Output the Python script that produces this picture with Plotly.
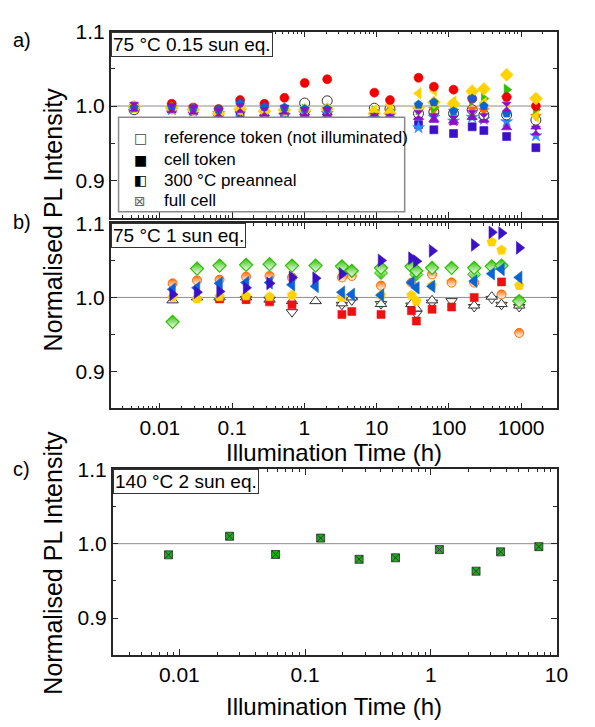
import plotly.graph_objects as go

# ---------------- data ----------------
# panel a) 75 °C 0.15 sun eq.
time_a = [0.0044, 0.0146, 0.029, 0.065, 0.129, 0.28, 0.53, 1.01, 2.07,
          9.3, 15.3, 38, 62, 116, 210, 305, 630, 1600]
a_red_circle = [1.000, 1.003, 0.998, 0.996, 1.008, 1.003, 1.011, 1.031, 1.036,
                1.018, 1.008, 1.038, 1.026, 1.022, 1.010, None, 1.012, 1.000]
a_ref_circle = [0.995, None, None, None, None, None, None, 1.004, 1.007,
                0.997, 0.996, 0.990, 0.992, 0.990, 0.995, 0.988, 0.988, 0.981]
a_blue_pentagon = [0.998, 0.999, 0.997, 0.995, 1.004, 0.999, 0.998, 0.996, 0.996,
                   0.985, 0.984, 1.002, 1.005, 0.993, 1.010, 1.000, 0.990, None]
a_blue_star = [0.996, 0.995, 0.993, 0.990, 0.993, 0.981, 0.987, 0.990, 0.990,
               0.983, 0.982, 0.971, 0.985, 0.980, 0.985, 0.982, 0.979, 0.960]
a_yellow_diamond = [0.999, 0.997, 0.995, 0.990, 0.996, 0.993, 0.995, 0.995, 0.996,
                    0.990, 0.990, 0.998, 1.005, 1.003, 1.020, 1.023, 1.042, 1.010]
a_yellow_triangle = [0.998, 0.996, 0.994, 0.989, 0.995, 0.992, 0.994, 0.994, 0.995,
                     0.995, 1.002, 1.017, 1.021, 1.006, 1.012, 1.004, 1.005, 0.986]
a_green_triangle = [0.998, 0.997, 0.994, 0.991, 0.996, 0.993, 0.994, 0.995, 0.995,
                    0.993, 0.994, 0.996, 0.998, 0.995, 1.008, 1.010, 1.022, 0.995]
a_orange_triangle = [0.997, 0.996, 0.993, 0.984, 0.994, 0.991, 0.993, 0.993, 0.994,
                     0.992, 0.993, 0.994, 0.995, 0.993, 0.996, 0.994, 1.010, 0.986]
a_purple_hourglass = [0.999, 0.997, 0.995, 0.991, 0.997, 0.992, 0.995, 0.992, 0.992,
                      0.984, 0.983, 0.988, 0.984, 0.981, 0.988, 0.984, 0.999, 0.967]
a_purple_triangle = [0.998, 0.996, 0.994, 0.990, 0.995, 0.990, 0.993, 0.991, 0.991,
                     0.983, 0.982, 0.985, 0.982, 0.980, 0.985, 0.982, 0.971, 0.972]
a_indigo_square = [0.998, 0.996, 0.994, 0.990, 0.990, 0.988, 0.990, 0.988, 0.988,
                   0.982, 0.982, 0.975, 0.968, 0.963, 0.972, 0.967, 0.959, 0.944]

# panel b) 75 °C 1 sun eq.
time_b = [0.015, 0.0327, 0.067, 0.156, 0.33, 0.674, 1.43, 3.31, 4.53,
          11.5, 30.3, 35.5, 58.5, 109, 224, 392, 535, 940]
b_green_diamond = [0.967, 1.039, 1.043, 1.044, 1.045, 1.043, 1.043, 1.042, 1.036,
                   1.040, 1.042, 1.036, 1.040, 1.040, 1.040, 1.042, 1.043, 0.995]
b_green_diamond2 = [None, None, None, None, None, None, None, None, None,
                    1.033, None, 1.031, None, None, 1.031, None, None, None]
b_orange_circle = [1.019, 1.023, 1.024, 1.028, 1.029, 1.027, None, 1.027, 1.029,
                   1.016, 1.020, None, 1.031, 1.020, 1.020, None, 1.004, 0.952]
b_blue_left = [1.011, 1.013, 1.019, 1.020, 1.020, 1.017, 1.015, 1.007, 1.004,
               1.003, 1.020, 1.013, 1.015, None, 1.022, 1.032, 1.038, 1.027]
b_indigo_right = [1.004, 1.007, 1.008, 1.013, 1.019, 1.027, 1.026, 1.032, None,
                  1.050, 1.053, 1.049, 1.063, None, 1.071, 1.088, 1.087, 1.067]
b_yellow_pentagon = [1.000, 0.998, 1.001, 1.002, 1.001, 1.003, None, 1.000, None,
                     1.003, 1.003, 0.995, 1.016, 1.021, 1.035, 1.075, 1.064, 1.016]
b_red_square = [None, None, 0.998, 0.997, 0.994, 0.990, None, 0.977, 0.981,
                0.977, 0.982, 0.968, 0.984, 0.987, 1.000, None, 1.021, 0.995]
b_ref_up = [0.996, 1.000, 1.000, 1.000, 0.997, 0.995, 0.995, 0.992, 1.000,
            0.991, 0.991, 0.985, 0.996, None, 0.989, 1.001, 0.991, 0.989]
b_ref_down = [None, None, None, 0.998, 0.997, 0.980, None, 0.990, 0.996,
              0.991, 0.989, 0.978, 0.993, 0.995, 0.987, 0.998, 0.990, 0.987]

# panel c) 140 °C 2 sun eq.
time_c = [0.0082, 0.0251, 0.0583, 0.133, 0.269, 0.524, 1.17, 2.29, 3.59, 7.23]
c_full_cell = [0.985, 1.010, 0.9855, 1.0075, 0.979, 0.981, 0.992, 0.963, 0.989, 0.996]

legend_labels = ["reference token (not illuminated)", "cell token",
                 "300 °C preanneal", "full cell"]
legend_glyphs = ["\u25A1", "\u25A0", "\u25E7", "\u22A0"]
panel_titles = ["75 °C 0.15 sun eq.", "75 °C 1 sun eq.", "140 °C 2 sun eq."]
x_ticks_ab = [0.01, 0.1, 1, 10, 100, 1000]
x_ticks_c = [0.01, 0.1, 1, 10]
y_ticks = [0.9, 1.0, 1.1]

# ---------------- styles ----------------
RED = "#f00000"
BLUE = "#0a64d6"
LBLUE = "#2b8cff"
YELLOW = "#ffd200"
GREEN = "#2cc000"
ORANGE = "#ff6a00"
PURPLE = "#8a10c8"
INDIGO = "#3a10c8"

fig = go.Figure()


def add(x, y, xa, ya, symbol, color, size=9, line_color=None, line_width=0.6,
        gradient=None):
    marker = dict(symbol=symbol, color=color, size=size,
                  line=dict(color=line_color or color, width=line_width))
    if gradient:
        marker["gradient"] = gradient
    fig.add_trace(go.Scatter(x=x, y=y, mode="markers", marker=marker,
                             xaxis=xa, yaxis=ya, showlegend=False,
                             hoverinfo="skip"))


# panel a
add(time_a, a_indigo_square, "x", "y", "square", INDIGO, 8)
add(time_a, a_blue_star, "x", "y", "star", LBLUE, 9)
add(time_a, a_purple_triangle, "x", "y", "triangle-up", PURPLE, 9)
add(time_a, a_ref_circle, "x", "y", "circle", "white", 10, "#333", 1)
add(time_a, a_orange_triangle, "x", "y", "triangle-down", ORANGE, 9)
add(time_a, a_green_triangle, "x", "y", "triangle-right", GREEN, 10)
add(time_a, a_yellow_triangle, "x", "y", "triangle-left", YELLOW, 10)
add(time_a, a_red_circle, "x", "y", "circle", RED, 9)
add(time_a, a_yellow_diamond, "x", "y", "diamond", YELLOW, 10)
add(time_a, a_blue_pentagon, "x", "y", "pentagon", BLUE, 9)
add(time_a, a_purple_hourglass, "x", "y", "hourglass", PURPLE, 9)

# panel b
add(time_b, b_ref_down, "x2", "y2", "triangle-down", "white", 10, "#333", 1)
add(time_b, b_ref_up, "x2", "y2", "triangle-up", "white", 10, "#333", 1)
add(time_b, b_red_square, "x2", "y2", "square", "#ee1111", 8)
add(time_b, b_yellow_pentagon, "x2", "y2", "pentagon", YELLOW, 10)
add(time_b, b_orange_circle, "x2", "y2", "circle", ORANGE, 9, ORANGE, 1,
    dict(type="vertical", color="white"))
add(time_b, b_green_diamond2, "x2", "y2", "diamond", "white", 10, GREEN, 1,
    dict(type="vertical", color=GREEN))
add(time_b, b_green_diamond, "x2", "y2", "diamond", GREEN, 10, GREEN, 1.2,
    dict(type="vertical", color="white"))
add(time_b, b_blue_left, "x2", "y2", "triangle-left", BLUE, 11)
add(time_b, b_indigo_right, "x2", "y2", "triangle-right", INDIGO, 11)

# panel c
add(time_c, c_full_cell, "x3", "y3", "square-x", "#22aa22", 8, "#2a2a2a", 0.8)

# ---------------- layout ----------------
FONT = "Liberation Sans, Arial, sans-serif"
AXC = "#262626"


def minor_vals(lo, hi):
    vals = []
    for e in range(lo, hi):
        for k in range(2, 10):
            vals.append(k * 10 ** e)
    return vals


def xaxis(dom, rng, ticks, show_labels, anchor, minors):
    return dict(type="log", domain=dom, range=rng, anchor=anchor,
                tickmode="array", tickvals=ticks,
                ticktext=[("%g" % t) for t in ticks],
                showticklabels=show_labels, ticks="inside", ticklen=6,
                tickwidth=1.3, tickcolor=AXC, showline=True, linecolor=AXC,
                linewidth=1.6, mirror="ticks", showgrid=False, zeroline=False,
                tickfont=dict(size=21, color="black", family=FONT),
                minor=dict(ticks="inside", ticklen=3, tickwidth=1,
                           tickcolor=AXC, tickmode="array", tickvals=minors,
                           showgrid=False))


def yaxis(dom, anchor):
    return dict(domain=dom, range=[0.85, 1.1], anchor=anchor,
                tickmode="array", tickvals=y_ticks,
                ticktext=["%.1f" % v for v in y_ticks],
                ticks="inside", ticklen=6, tickwidth=1.3, tickcolor=AXC,
                showline=True, linecolor=AXC, linewidth=1.6, mirror="ticks",
                showgrid=False, zeroline=False,
                tickfont=dict(size=21, color="black", family=FONT),
                minor=dict(ticks="inside", ticklen=4, tickwidth=1,
                           tickcolor=AXC, tickmode="array",
                           tickvals=[0.95, 1.05], showgrid=False))


W, H = 595, 727
xd_ab = [113 / W, 568 / W]
xd_c = [115 / W, 568 / W]
yd_a = [1 - 209 / H, 1 - 20 / H]
yd_b = [1 - 403 / H, 1 - 215 / H]
yd_c = [1 - 654 / H, 1 - 465 / H]

fig.update_layout(
    width=W, height=H, margin=dict(l=0, r=0, t=0, b=0),
    paper_bgcolor="white", plot_bgcolor="white",
    font=dict(family=FONT, color="black"),
    xaxis=xaxis(xd_ab, [-2.68, 3.49], x_ticks_ab, False, "y", minor_vals(-3, 4)),
    yaxis=yaxis(yd_a, "x"),
    xaxis2=xaxis(xd_ab, [-2.68, 3.49], x_ticks_ab, True, "y2", minor_vals(-3, 4)),
    yaxis2=yaxis(yd_b, "x2"),
    xaxis3=xaxis(xd_c, [-2.53, 1.0], x_ticks_c, True, "y3", minor_vals(-3, 1)),
    yaxis3=yaxis(yd_c, "x3"),
    showlegend=False,
)

# reference line at 1.0
for xr, yr in [("x", "y"), ("x2", "y2"), ("x3", "y3")]:
    fig.add_shape(type="line", xref=xr + " domain", yref=yr, x0=0, x1=1,
                  y0=1.0, y1=1.0, line=dict(color="#8c8c8c", width=1),
                  layer="below")

# legend box (panel a)
fig.add_shape(type="rect", xref="paper", yref="paper",
              x0=121 / W, x1=413 / W, y0=1 - 203 / H, y1=1 - 107 / H,
              fillcolor="white", line=dict(color="#8a8a8a", width=1.5),
              layer="above")
leg_rows = [128, 150, 171, 192]
leg_colors = ["#444", "black", "black", "#666"]
for lab, gl, py, gc in zip(legend_labels, legend_glyphs, leg_rows, leg_colors):
    fig.add_annotation(xref="paper", yref="paper", x=143 / W, y=1 - py / H,
                       text=gl, showarrow=False, xanchor="center",
                       yanchor="middle",
                       font=dict(size=14, family="DejaVu Sans", color=gc))
    fig.add_annotation(xref="paper", yref="paper", x=165 / W, y=1 - py / H,
                       text=lab, showarrow=False, xanchor="left",
                       yanchor="middle",
                       font=dict(size=17, family=FONT, color="black"))

# panel condition boxes
for (xr, yr), txt in zip([("x", "y"), ("x2", "y2"), ("x3", "y3")], panel_titles):
    fig.add_annotation(xref=xr + " domain", yref=yr + " domain", x=0, y=1,
                       xanchor="left", yanchor="top", text=txt, showarrow=False,
                       font=dict(size=19, family=FONT, color="black"),
                       bordercolor="#333", borderwidth=1, borderpad=1,
                       bgcolor="white")

# panel letters
for txt, py in [("a)", 28), ("b)", 214), ("c)", 465)]:
    fig.add_annotation(xref="paper", yref="paper", x=22 / W, y=1 - py / H,
                       text=txt, showarrow=False, xanchor="center",
                       yanchor="middle",
                       font=dict(size=20, family=FONT, color="black"))

# axis titles
for yc in [211, 560]:
    fig.add_annotation(xref="paper", yref="paper", x=54 / W, y=1 - yc / H,
                       text="Normalised PL Intensity", textangle=-90,
                       showarrow=False, xanchor="center", yanchor="middle",
                       font=dict(size=25, family=FONT, color="black"))
for yc in [448, 706]:
    fig.add_annotation(xref="paper", yref="paper", x=341 / W, y=1 - yc / H,
                       text="Illumination Time (h)", showarrow=False,
                       xanchor="center", yanchor="middle",
                       font=dict(size=24, family=FONT, color="black"))

fig.write_html("out.html")
